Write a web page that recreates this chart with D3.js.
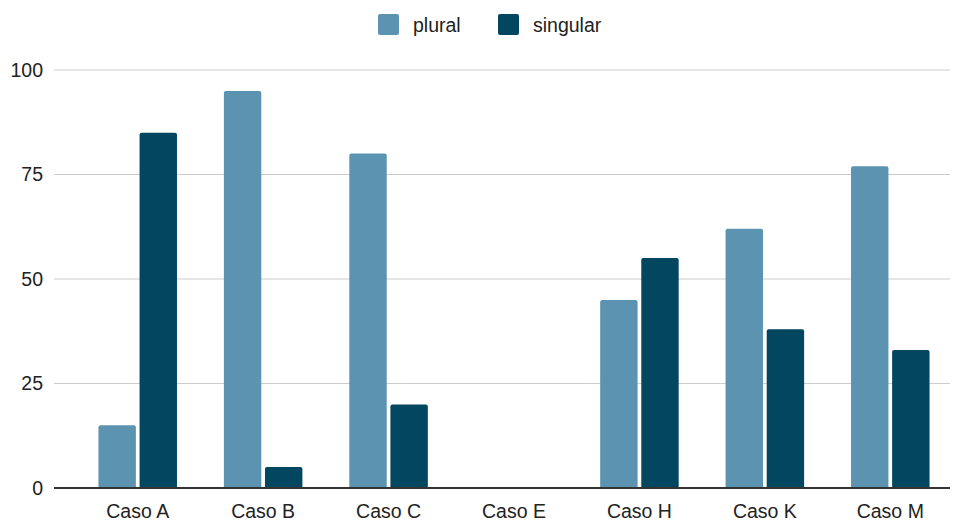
<!DOCTYPE html>
<html>
<head>
<meta charset="utf-8">
<script src="https://cdn.jsdelivr.net/npm/d3@7"></script>
<style>
  html, body { margin: 0; padding: 0; background: #fff; }
  svg { display: block; font-family: "Liberation Sans", Arial, sans-serif; }
</style>
</head>
<body>
<svg id="chart" width="962" height="521"></svg>
<script>
// Chart data
const categories = ["Caso A", "Caso B", "Caso C", "Caso E", "Caso H", "Caso K", "Caso M"];
const seriesNames = ["plural", "singular"];
const pluralValues = [15, 95, 80, 0, 45, 62, 77];
const singularValues = [85, 5, 20, 0, 55, 38, 33];
const yTicks = [0, 25, 50, 75, 100];
const colors = ["#5b93b0", "#03465f"];

const svg = d3.select("#chart");
const gridLeft = 54, plotRight = 953, plotTop = 70, plotBottom = 488;
const fontSize = 19.5;

const y = d3.scaleLinear().domain([0, 100]).range([plotBottom, plotTop]);
const x0 = d3.scaleBand().domain(categories).range([75, plotRight]).paddingInner(0.374).paddingOuter(0.187);
const x1 = d3.scaleBand().domain(seriesNames).range([0, x0.bandwidth()]).paddingInner(0.09);

// Gridlines
svg.append("g").selectAll("line").data(yTicks.filter(d => d !== 0)).join("line")
  .attr("x1", gridLeft).attr("x2", 950)
  .attr("y1", d => y(d)).attr("y2", d => y(d))
  .attr("stroke", "#cccccc").attr("stroke-width", 1);

// Y-axis labels
const yAxis = d3.axisLeft(y).tickValues(yTicks).tickSize(0).tickPadding(0);
const yg = svg.append("g").attr("transform", `translate(43,0)`).call(yAxis);
yg.select(".domain").remove();
yg.selectAll("text").attr("font-size", fontSize).attr("fill", "#222").attr("font-family", "Liberation Sans, Arial, sans-serif");

// Bars with slightly rounded tops
const rows = categories.map((c, i) => ({ c, vals: [pluralValues[i], singularValues[i]] }));
const r = 2;
function barPath(xp, w, yTop, yBase) {
  const h = yBase - yTop;
  if (h <= 0) return "";
  const rr = Math.min(r, h, w / 2);
  return `M${xp},${yBase}V${yTop + rr}Q${xp},${yTop} ${xp + rr},${yTop}H${xp + w - rr}Q${xp + w},${yTop} ${xp + w},${yTop + rr}V${yBase}Z`;
}
const groups = svg.append("g").selectAll("g").data(rows).join("g")
  .attr("transform", d => `translate(${x0(d.c)},0)`);
groups.selectAll("path").data(d => d.vals.map((v, k) => ({ s: seriesNames[k], v, k }))).join("path")
  .attr("d", d => barPath(x1(d.s), x1.bandwidth(), y(d.v), y(0)))
  .attr("fill", d => colors[d.k]);

// Baseline
svg.append("line").attr("x1", gridLeft).attr("x2", 950)
  .attr("y1", y(0)).attr("y2", y(0))
  .attr("stroke", "#333").attr("stroke-width", 2);

// X-axis labels
const xAxis = d3.axisBottom(x0).tickSize(0).tickPadding(0);
const xg = svg.append("g").attr("transform", `translate(0,504)`).call(xAxis);
xg.select(".domain").remove();
xg.selectAll("text").attr("font-size", fontSize).attr("fill", "#222").attr("dy", "0.71em")
  .attr("font-family", "Liberation Sans, Arial, sans-serif");

// Legend
const legendItems = [{ name: "plural", x: 378 }, { name: "singular", x: 498 }];
const lg = svg.append("g").selectAll("g").data(legendItems).join("g")
  .attr("transform", d => `translate(${d.x},14)`);
lg.append("rect").attr("width", 21).attr("height", 21).attr("rx", 2)
  .attr("fill", (d, i) => colors[i]);
lg.append("text").attr("x", 35).attr("y", 18).attr("font-size", fontSize).attr("fill", "#222")
  .text(d => d.name);
</script>
</body>
</html>
